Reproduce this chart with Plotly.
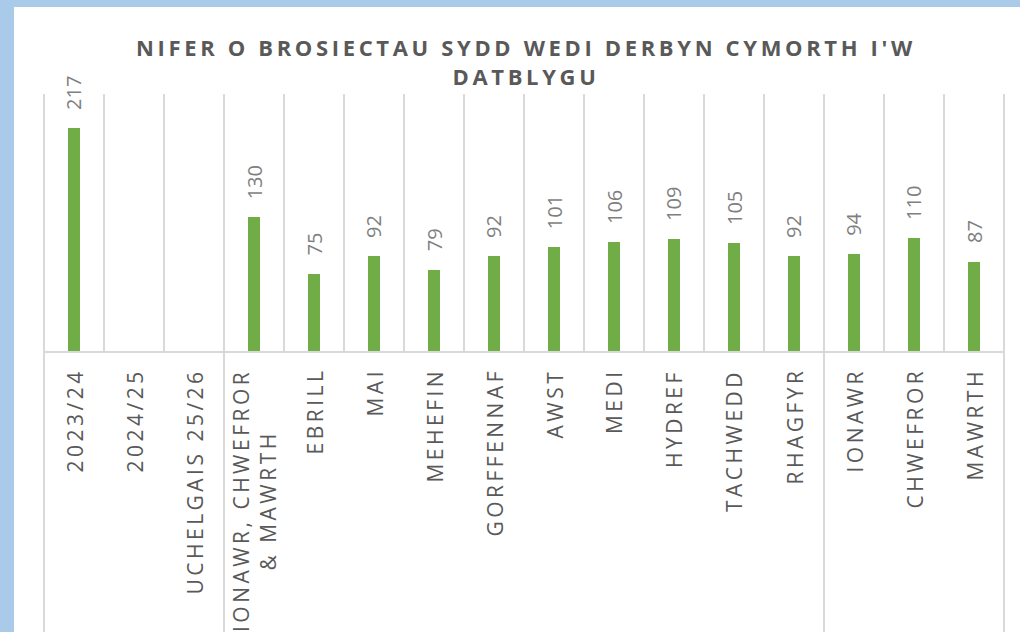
import plotly.graph_objects as go

categories = ["2023/24", "2024/25", "UCHELGAIS 25/26", "IONAWR, CHWEFROR<br>& MAWRTH",
              "EBRILL", "MAI", "MEHEFIN", "GORFFENNAF", "AWST", "MEDI", "HYDREF",
              "TACHWEDD", "RHAGFYR", "IONAWR", "CHWEFROR", "MAWRTH"]
values = [217, None, None, 130, 75, 92, 79, 92, 101, 106, 109, 105, 92, 94, 110, 87]
group_bounds = [0, 3, 13, 16]  # category indices where lower-level group separators sit
title_text = "NIFER O BROSIECTAU SYDD WEDI DERBYN CYMORTH I'W<br>DATBLYGU"

W, H = 1020, 632
ML, MR, MT, MB = 44, 16, 94, 281
N = len(categories)

def spaced(s, sep="\u2009"):
    parts = s.split("<br>")
    return "<br>".join(sep.join(list(p)) for p in parts)

FONT = "Open Sans"
GREEN = "#70ad47"
GRID = "#d9d9d9"

xs = list(range(N))
fig = go.Figure()
fig.add_trace(go.Bar(x=xs, y=values, width=0.2, marker=dict(color=GREEN, line=dict(width=0)),
                     hoverinfo="skip"))

ann = []
for i, v in enumerate(values):
    if v is not None:
        ann.append(dict(x=i, y=v, xref="x", yref="y", text=str(v), textangle=-90,
                        showarrow=False, yanchor="bottom", xanchor="center", yshift=16,
                        font=dict(family=FONT, size=20, color="#7f7f7f")))
for i, c in enumerate(categories):
    ann.append(dict(x=i, y=0, xref="x", yref="y", text=spaced(c), textangle=-90,
                    showarrow=False, yanchor="top", xanchor="center", yshift=-19,
                    align="center",
                    font=dict(family=FONT, size=21, color="#595959")))
ann.append(dict(x=0.5, y=(351 - 61.5) / 257,
                xref="paper", yref="paper", text="<b>" + spaced(title_text) + "</b>",
                showarrow=False, xanchor="center", yanchor="middle", align="center",
                font=dict(family=FONT, size=22, color="#595959")))

shapes = []
# white chart area over the blue frame
shapes.append(dict(type="rect", xref="paper", yref="paper",
                   x0=(14 - ML) / (W - ML - MR), x1=1.2, y0=-1.3, y1=(351 - 7) / 257,
                   fillcolor="white", line=dict(width=0), layer="below"))
for b in group_bounds:
    shapes.append(dict(type="line", xref="x domain", yref="paper", x0=b / N, x1=b / N,
                       y0=-1.2, y1=1, line=dict(color=GRID, width=2), layer="below"))

fig.update_layout(
    width=W, height=H,
    margin=dict(l=ML, r=MR, t=MT, b=MB, pad=0),
    paper_bgcolor="#a9cbe9",
    plot_bgcolor="rgba(0,0,0,0)",
    showlegend=False,
    annotations=ann,
    shapes=shapes,
    bargap=0,
    xaxis=dict(range=[-0.5, N - 0.5], tickmode="linear", tick0=-0.5, dtick=1,
               showgrid=True, gridcolor=GRID, gridwidth=2, showticklabels=False,
               ticks="", zeroline=False, showline=True, linecolor=GRID, linewidth=2,
               fixedrange=True),
    yaxis=dict(range=[0, 250], showgrid=False, showticklabels=False, zeroline=False,
               showline=False, ticks="", fixedrange=True),
)

fig.write_html("out.html", config={"displayModeBar": False},
               post_script="document.body.style.margin='0';document.body.style.padding='0';")
